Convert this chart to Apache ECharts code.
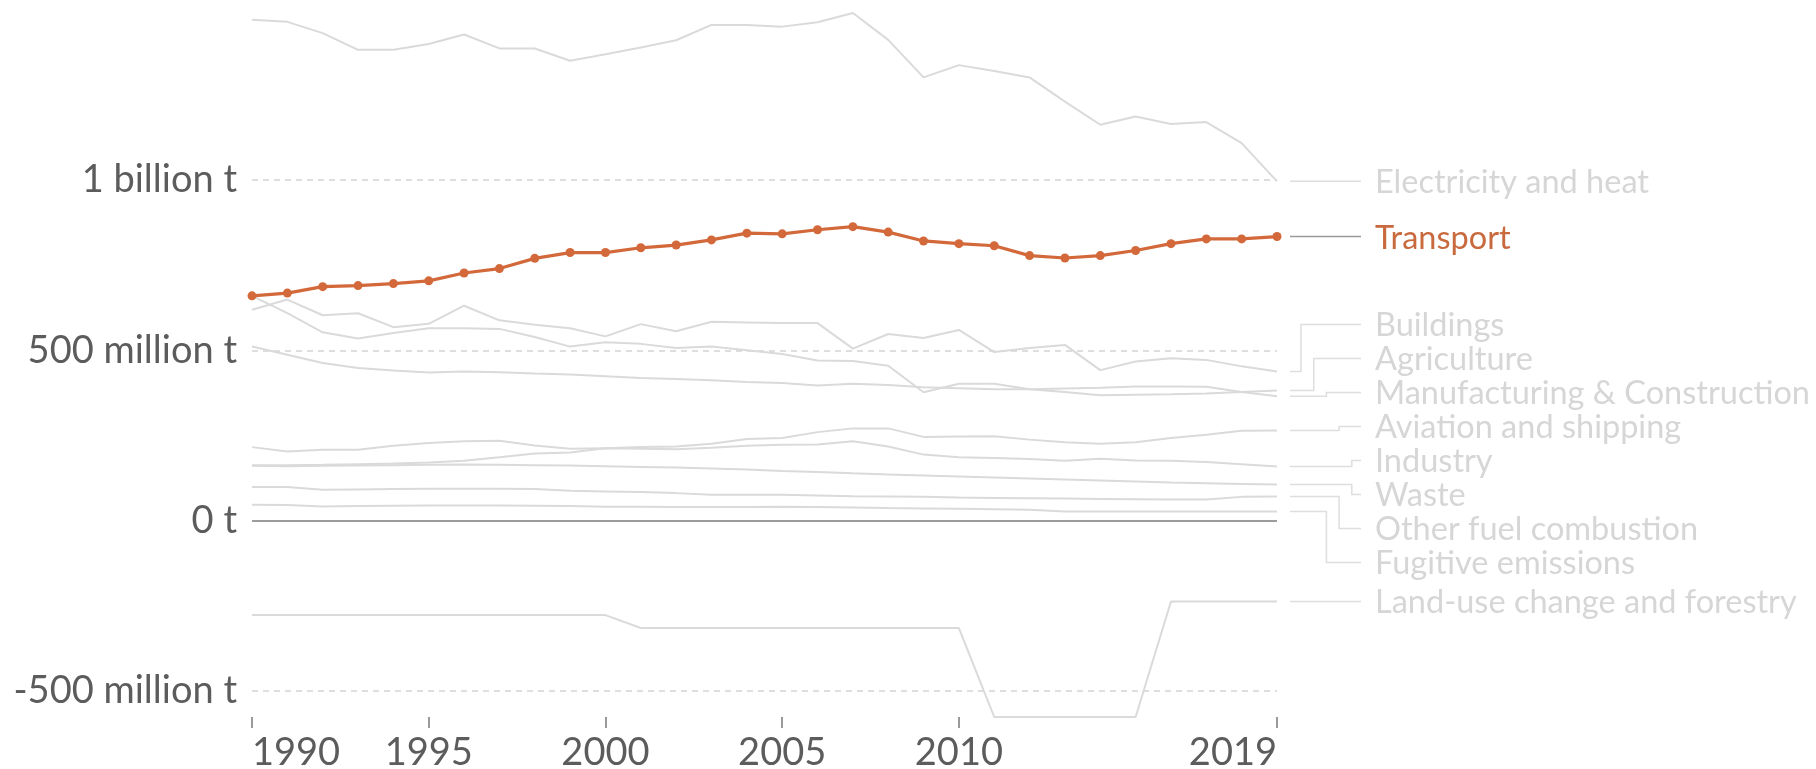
<!DOCTYPE html>
<html>
<head>
<meta charset="utf-8">
<script src="https://cdn.jsdelivr.net/npm/echarts@6/dist/echarts.min.js"></script>
<style>
  html, body { margin: 0; padding: 0; background: #ffffff; }
  #chart { width: 1816px; height: 769px; }
</style>
</head>
<body>
<div id="chart"></div>
<script>
// ---- Data (million tonnes CO2e) ----
const years = [1990,1991,1992,1993,1994,1995,1996,1997,1998,1999,2000,2001,2002,2003,2004,2005,2006,2007,2008,2009,2010,2011,2012,2013,2014,2015,2016,2017,2018,2019];
const xTickYears = [1990, 1995, 2000, 2005, 2010, 2019];

const electricityHeat = [1470,1464,1431,1382,1382,1399,1427,1386,1386,1350,1369,1389,1410,1455,1455,1450,1463,1490,1411,1301,1337,1320,1301,1230,1162,1186,1164,1170,1108,996];
const transport = [660,668,687,690,696,704,727,740,770,787,787,801,809,824,844,842,854,863,847,821,813,807,778,771,778,793,813,827,827,834];
const buildings = [619,649,603,609,568,578,631,588,575,565,541,577,556,584,582,580,580,505,548,536,560,495,507,516,442,467,477,472,453,438];
const agriculture = [660,609,553,535,551,565,565,563,539,511,524,519,507,511,500,489,470,469,455,377,402,402,386,378,368,370,371,373,378,382];
const manufacturing = [511,487,463,448,441,435,438,436,432,429,424,419,416,412,407,404,397,402,398,392,389,386,386,388,390,394,394,393,378,365];
const aviationShipping = [163,163,164,166,168,171,176,186,197,200,213,216,218,226,240,243,260,271,271,246,247,248,238,230,226,230,243,252,264,265];
const industry = [216,203,208,208,220,228,233,235,221,211,213,211,210,214,220,223,224,233,218,194,186,184,181,176,182,177,176,172,166,159];
const waste = [161,160,161,162,163,164,165,164,163,162,160,158,156,153,150,146,143,139,136,133,130,127,124,121,118,115,112,110,108,106];
const otherFuel = [99,99,91,92,93,94,94,94,93,88,86,84,81,76,76,76,74,72,71,70,68,67,66,65,64,63,62,62,70,71];
const fugitive = [47,46,42,43,44,45,45,45,44,43,41,41,40,40,40,41,40,39,37,36,35,34,32,27,27,27,27,27,27,27];
const landUse = [-277,-277,-277,-277,-277,-277,-277,-277,-277,-277,-277,-315,-315,-315,-315,-315,-315,-315,-315,-315,-315,-576,-576,-576,-576,-576,-237,-237,-237,-237];

const seriesNames = ['Electricity and heat','Transport','Buildings','Agriculture','Manufacturing & Construction','Aviation and shipping','Industry','Waste','Other fuel combustion','Fugitive emissions','Land-use change and forestry'];
const seriesValues = [electricityHeat, transport, buildings, agriculture, manufacturing, aviationShipping, industry, waste, otherFuel, fugitive, landUse];
const highlighted = 'Transport';

const yTickValues = [-500, 0, 500, 1000];
const yTickLabels = ['-500 million t', '0 t', '500 million t', '1 billion t'];

// ---- Styles ----
const ORANGE = '#d3693a';
const ORANGE_TEXT = '#c8693e';
const GRAY_LINE = '#dadada';
const GRAY_TEXT = '#d6d6d6';
const AXIS_TEXT = '#5c5c5c';
const FONT = 'Lato, "Noto Sans", sans-serif';

const chart = echarts.init(document.getElementById('chart'), null, { renderer: 'canvas' });

const series = seriesNames.map((name, i) => {
  const isHi = name === highlighted;
  const s = {
    name,
    type: 'line',
    data: years.map((y, k) => [y, seriesValues[i][k]]),
    showSymbol: isHi,
    symbol: 'circle',
    symbolSize: 9,
    silent: true,
    z: isHi ? 10 : 2,
    lineStyle: { color: isHi ? ORANGE : GRAY_LINE, width: isHi ? 3.2 : 2 },
    itemStyle: { color: ORANGE },
    emphasis: { disabled: true }
  };
  if (i === 0) {
    s.markLine = {
      silent: true,
      symbol: ['none', 'none'],
      label: { show: false },
      lineStyle: { color: '#9c9c9c', type: 'solid', width: 2 },
      data: [{ yAxis: 0 }],
      z: 1
    };
  }
  return s;
});

const option = {
  animation: false,
  backgroundColor: '#ffffff',
  grid: { left: 252, right: 539, top: 13, bottom: 52, containLabel: false, outerBoundsMode: 'none' },
  xAxis: {
    type: 'value',
    min: years[0],
    max: years[years.length - 1],
    axisLine: { show: false, onZero: false },
    splitLine: { show: false },
    axisTick: { show: true, customValues: xTickYears, length: 11, lineStyle: { color: '#9a9a9a', width: 2 } },
    axisLabel: {
      customValues: xTickYears,
      color: AXIS_TEXT, fontFamily: FONT, fontSize: 38, margin: 17,
      alignMinLabel: 'left', alignMaxLabel: 'right',
      formatter: v => String(v)
    }
  },
  yAxis: {
    type: 'value',
    min: 'dataMin',
    max: 'dataMax',
    splitNumber: 5,
    axisLine: { show: false },
    axisTick: { show: false },
    splitLine: { show: true, showMinLine: false, showMaxLine: false, lineStyle: { color: '#d4d4d4', type: [6, 5], width: 1.5 } },
    axisLabel: {
      showMinLabel: false, showMaxLabel: false,
      color: AXIS_TEXT, fontFamily: FONT, fontSize: 38, margin: 15,
      formatter: v => { const k = yTickValues.indexOf(v); return k >= 0 ? yTickLabels[k] : ''; }
    }
  },
  series
};
chart.setOption(option);

// ---- Right-hand labels, positioned from the line ends via the chart's own scales ----
const LABEL_H = 34;
const ends = seriesNames.map((name, i) => {
  const vals = seriesValues[i];
  const p = chart.convertToPixel({ gridIndex: 0 }, [years[years.length - 1], vals[vals.length - 1]]);
  return { name, i, x: p[0], y: p[1] };
}).sort((a, b) => a.y - b.y);

let blocks = ends.map(e => ({ items: [e] }));
function place(b) {
  const mean = b.items.reduce((s, e) => s + e.y, 0) / b.items.length;
  const first = mean - (b.items.length - 1) * LABEL_H / 2;
  b.items.forEach((e, k) => { e.ly = first + k * LABEL_H; });
}
blocks.forEach(place);
let changed = true;
while (changed) {
  changed = false;
  for (let k = 0; k < blocks.length - 1; k++) {
    const a = blocks[k], b = blocks[k + 1];
    if (b.items[0].ly < a.items[a.items.length - 1].ly + LABEL_H) {
      a.items = a.items.concat(b.items);
      blocks.splice(k + 1, 1);
      place(a);
      changed = true;
      break;
    }
  }
}

const graphics = [];
const endX = ends[0].x;
const lineStart = endX + 13;
const labelX = endX + 98;
const lineEnd = labelX - 14;
const elbowBase = endX + 24;
const elbowStep = 12.7;
const TEXT_DY = 1.5;
blocks.forEach(b => {
  const up = b.items.filter(e => e.ly < e.y - 0.5);
  const down = b.items.filter(e => e.ly > e.y + 0.5);
  const nSlots = Math.max(up.length, down.length);
  up.forEach((e, r) => { e.slot = r; });
  down.forEach((e, r) => { e.slot = nSlots - 1 - r; });
  b.items.forEach(e => {
    const isHi = e.name === highlighted;
    const ty = e.ly + TEXT_DY;
    let pts;
    if (e.slot === undefined) {
      pts = [[lineStart, e.y], [lineEnd, e.y]];
    } else {
      const ex = elbowBase + e.slot * elbowStep;
      pts = [[lineStart, e.y], [ex, e.y], [ex, e.ly], [lineEnd, e.ly]];
    }
    graphics.push({
      type: 'polyline', silent: true, z: 5,
      shape: { points: pts },
      style: { stroke: isHi ? '#9a9a9a' : '#dedede', lineWidth: 1.5, fill: null }
    });
    graphics.push({
      type: 'text', silent: true, z: 6,
      x: labelX, y: ty,
      style: {
        text: e.name, fill: isHi ? ORANGE_TEXT : GRAY_TEXT,
        font: '32.5px ' + FONT, align: 'left', verticalAlign: 'middle'
      }
    });
  });
});
chart.setOption({ graphic: graphics });
</script>
</body>
</html>
